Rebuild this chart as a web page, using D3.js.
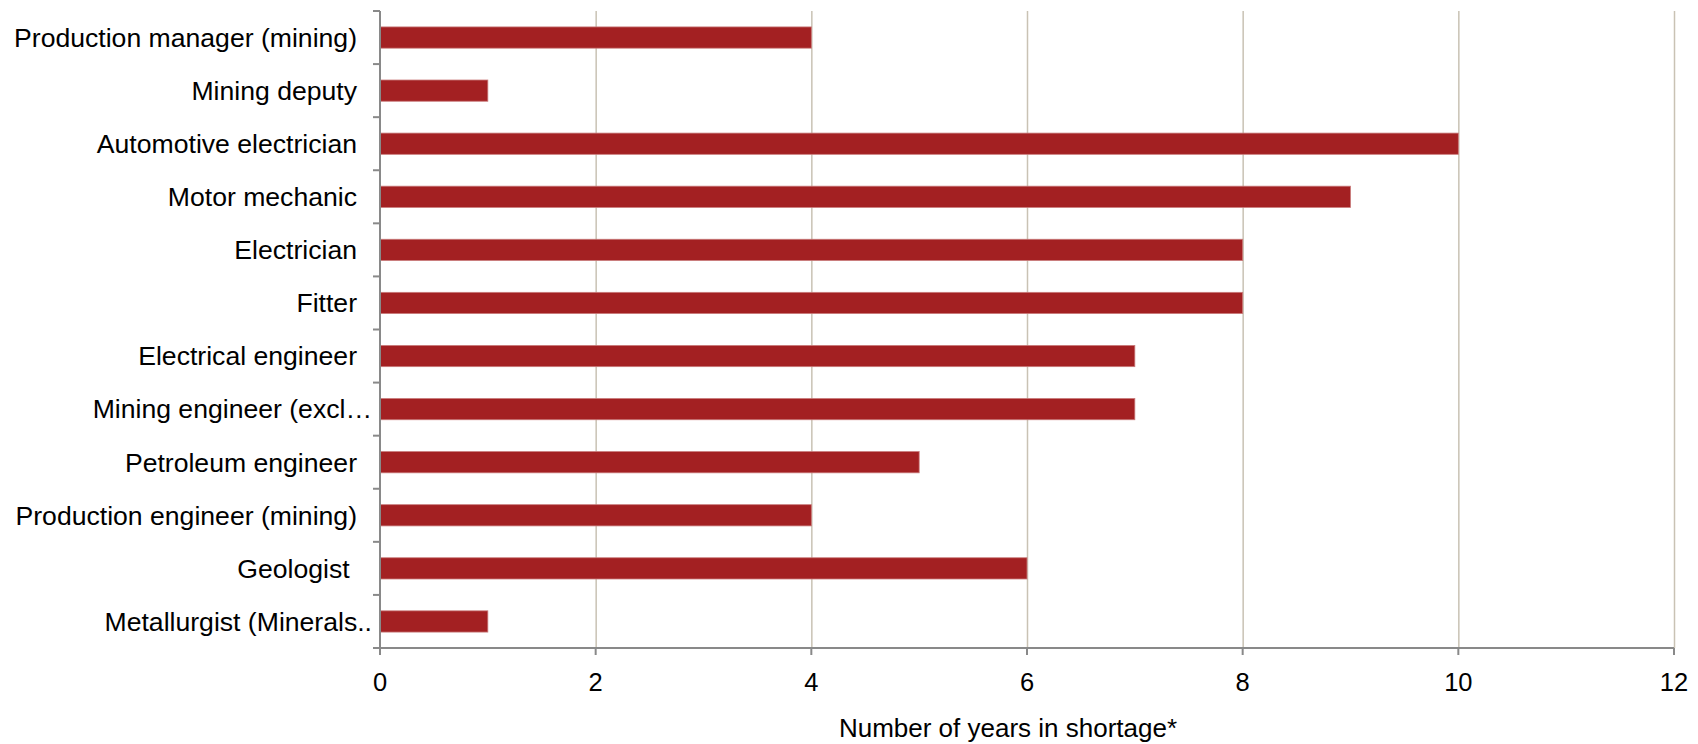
<!DOCTYPE html>
<html><head><meta charset="utf-8">
<script src="https://cdn.jsdelivr.net/npm/d3@7"></script>
<style>
body{margin:0;background:#fff;}
text{font-family:"Liberation Sans",Arial,Helvetica,sans-serif;fill:#000;white-space:pre;}
</style></head>
<body><svg id="c" width="1698" height="744"></svg>
<script>
const categories = ["Production manager (mining)","Mining deputy","Automotive electrician","Motor mechanic","Electrician","Fitter","Electrical engineer","Mining engineer (excl…","Petroleum engineer","Production engineer (mining)","Geologist ","Metallurgist (Minerals.."];
const values = [4,1,10,9,8,8,7,7,5,4,6,1];
const xTicks = [0,2,4,6,8,10,12];
const xTitle = "Number of years in shortage*";

const svg = d3.select("#c");
const L = 380, R = 1674, T = 11, B = 648;
const x = d3.scaleLinear().domain([0,12]).range([L,R]);
const y = d3.scaleBand().domain(categories).range([T,B]).paddingInner(0.6).paddingOuter(0.3);
const yb = d3.scaleBand().domain(categories).range([T,B]);
const truncated = d => d.endsWith("…") || d.endsWith("..");

// gridlines
svg.append("g").selectAll("line").data(xTicks.filter(d=>d>0)).join("line")
  .attr("x1",d=>x(d)+0.5).attr("x2",d=>x(d)+0.5).attr("y1",T).attr("y2",B)
  .attr("stroke","#c9c2b4").attr("stroke-width",1.5);

// bars
svg.append("g").selectAll("rect").data(values).join("rect")
  .attr("x",x(0)).attr("y",(d,i)=>y(categories[i]))
  .attr("width",d=>x(d)-x(0)).attr("height",y.bandwidth())
  .attr("fill","#a32022").attr("stroke","#c97a7a").attr("stroke-width",0.8);

// y axis
const gy = svg.append("g");
gy.append("line").attr("x1",L).attr("x2",L).attr("y1",T).attr("y2",B).attr("stroke","#898989").attr("stroke-width",2);
gy.selectAll("line.t").data(categories.concat([null])).join("line").attr("class","t")
  .attr("x1",L-7).attr("x2",L).attr("y1",(d,i)=>T+i*yb.step()).attr("y2",(d,i)=>T+i*yb.step())
  .attr("stroke","#898989").attr("stroke-width",2);
gy.selectAll("text").data(categories).join("text")
  .attr("x",d=>truncated(d)? L-8 : L-23)
  .attr("y",d=>yb(d)+yb.bandwidth()/2).attr("dy","0.35em")
  .attr("text-anchor","end").attr("font-size",26.6).text(d=>d);

// x axis
const gx = svg.append("g");
gx.append("line").attr("x1",L).attr("x2",R).attr("y1",B).attr("y2",B).attr("stroke","#898989").attr("stroke-width",2);
gx.selectAll("line.t").data(xTicks).join("line").attr("class","t")
  .attr("x1",d=>x(d)).attr("x2",d=>x(d)).attr("y1",B).attr("y2",B+7)
  .attr("stroke","#898989").attr("stroke-width",2);
gx.selectAll("text").data(xTicks).join("text")
  .attr("x",d=>x(d)).attr("y",691).attr("text-anchor","middle").attr("font-size",25.5).text(d=>d);

svg.append("text").attr("x",1008).attr("y",737).attr("text-anchor","middle").attr("font-size",26).text(xTitle);
</script></body></html>
